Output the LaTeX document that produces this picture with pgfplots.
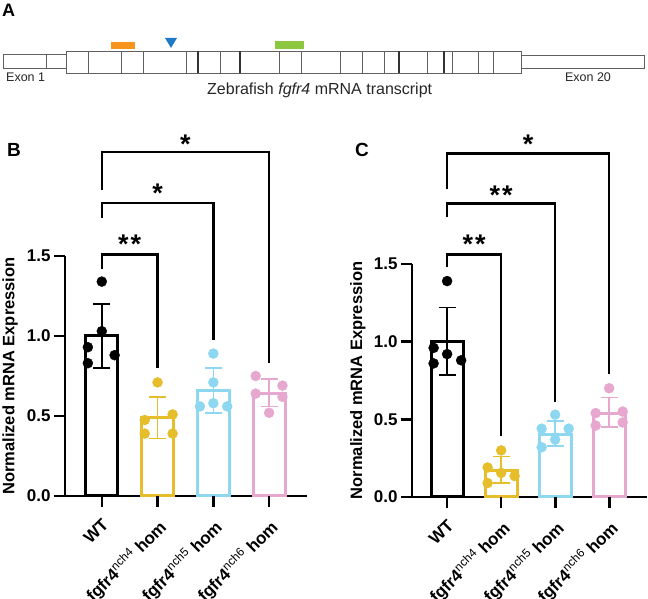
\documentclass[border=0pt]{standalone}
\usepackage{pgfplots}
\pgfplotsset{compat=1.18}
\usepackage{fontspec}
\setmainfont{Liberation Sans}

\definecolor{cyel}{HTML}{E6BE2C}
\definecolor{cblu}{HTML}{8DD8F0}
\definecolor{cpnk}{HTML}{E6A8CF}
\definecolor{corg}{HTML}{F7941D}
\definecolor{cgrn}{HTML}{8DC63F}
\definecolor{ctri}{HTML}{1F78C8}
\definecolor{cgry}{HTML}{606060}

\newcommand\fs[1]{\fontsize{#1}{#1}\selectfont}
\newcommand\mut[1]{fgfr4\textsuperscript{\mdseries nch#1} hom}

\tikzset{
  brk/.style={line width=2.5pt, line join=miter},
  star/.style={font=\fs{27}\bfseries, anchor=base, yshift=-15.5pt, inner sep=0pt},
}
\pgfplotsset{
  panel/.style={
    scale only axis, anchor=south west, clip=false,
    xmin=-0.66, xmax=3.68, ymin=0, ymax=1.5,
    axis x line=bottom, axis y line=left,
    axis line style={line width=2.6pt,-},
    xtick style={line width=2.6pt,black},
    ytick style={line width=2.6pt,black},
    major tick length=11pt, xtick align=outside, ytick align=outside,
    xtick={0,1,2,3}, xticklabels={WT,\mut4,\mut5,\mut6},
    x tick label style={rotate=45,anchor=north east,font=\fs{17}\bfseries,
      inner sep=2pt, xshift=-6pt, yshift=-5pt},
    ytick={0,0.5,1,1.5}, yticklabels={0.0,0.5,1.0,1.5},
    y tick label style={font=\fs{17}\bfseries},
    ylabel={Normalized mRNA Expression},
    ylabel style={font=\fs{16.5}\bfseries,anchor=center},
  },
  mybar/.style={ybar, bar shift=0pt, bar width=32pt, line width=3pt, draw=#1, fill=white},
  myerr/.style={draw=none, forget plot, error bars/.cd, y dir=both, y explicit,
    error bar style={line width=1.6pt, draw=#1},
    error mark options={rotate=90, mark size=8.5pt, line width=1.6pt, draw=#1}},
  mypts/.style={only marks, mark=*, mark size=5pt, color=#1},
}

\begin{document}
\begin{tikzpicture}
\path[use as bounding box] (0,0) rectangle (648pt,599pt);

% panel A: transcript schematic, pixel coordinates
\begin{axis}[at={(0pt,0pt)}, anchor=south west, scale only axis,
  width=648pt, height=599pt, xmin=0, xmax=648, ymin=0, ymax=599,
  y dir=reverse, hide axis, clip=false]
\draw[cgry, line width=0.8pt] (3,54) rectangle (66,68);
\draw[cgry, line width=0.8pt] (46,54) -- (46,68);
\draw[cgry, line width=0.8pt] (66,51) rectangle (521,73);
\draw[cgry, line width=0.8pt] (521,55) rectangle (644,68);
\draw[cgry, line width=0.8pt]
  (88,51)--(88,73) (121,51)--(121,73) (143,51)--(143,73) (186,51)--(186,73)
  (220,51)--(220,73) (279,51)--(279,73) (301,51)--(301,73)
  (340,51)--(340,73) (362,51)--(362,73) (384,51)--(384,73)
  (427,51)--(427,73) (452,51)--(452,73) (478,51)--(478,73) (493,51)--(493,73);
\draw[black!80, line width=1.1pt]
  (198,51)--(198,73) (240,51)--(240,73) (399,51)--(399,73) (444,51)--(444,73);
\fill[corg] (111,42) rectangle (135,49);
\fill[cgrn] (275,41) rectangle (304,49);
\fill[ctri] (165,38) -- (177,38) -- (171,48) -- cycle;
\node[anchor=base west, inner sep=0pt, font=\fs{12.5}, text=black!85] at (6,82) {Exon 1};
\node[anchor=base, inner sep=0pt, font=\fs{12.5}, text=black!85] at (588,82) {Exon 20};
\node[anchor=base west, inner sep=0pt, font=\fs{16}, text=black!85] at (207,95)
  {Zebrafish \textit{fgfr4} mRNA transcript};
\node[anchor=base west, inner sep=0pt, font=\fs{18}\bfseries] at (2,17) {A};
\node[anchor=base west, inner sep=0pt, font=\fs{19}\bfseries] at (7,157) {B};
\node[anchor=base west, inner sep=0pt, font=\fs{19}\bfseries] at (355,157) {C};
\end{axis}

% panel B
\begin{axis}[panel, at={(65pt,103pt)}, width=242pt, height=240pt,
  ylabel style={at={(axis description cs:-0.227,0.5)}}]
\addplot[mybar=black] coordinates {(0,1.00)};
\addplot[mybar=cyel] coordinates {(1,0.49)};
\addplot[mybar=cblu] coordinates {(2,0.66)};
\addplot[mybar=cpnk] coordinates {(3,0.64)};
\addplot[myerr=black] coordinates {(0,1.00) +- (0,0.20)};
\addplot[myerr=cyel] coordinates {(1,0.49) +- (0,0.13)};
\addplot[myerr=cblu] coordinates {(2,0.66) +- (0,0.14)};
\addplot[myerr=cpnk] coordinates {(3,0.64) += (0,0.09) -= (0,0.08)};
\addplot[mypts=black] coordinates {(0,1.34) (0,1.03) (-0.25,0.93) (-0.25,0.83) (0.23,0.88)};
\addplot[mypts=cyel] coordinates {(1,0.71) (0.77,0.475) (1.27,0.51) (0.77,0.39) (1.27,0.39)};
\addplot[mypts=cblu] coordinates {(2,0.89) (2,0.71) (1.76,0.56) (2,0.58) (2.25,0.56)};
\addplot[mypts=cpnk] coordinates {(2.76,0.75) (3.24,0.69) (2.76,0.64) (3.24,0.62) (3,0.52)};
\draw[brk] (0,1.42) -- (0,1.51) -- (1,1.51) -- (1,0.80);
\draw[brk] (0,1.74) -- (0,1.83) -- (2,1.83) -- (2,0.975);
\draw[brk] (0,1.91) -- (0,2.15) -- (3,2.15) -- (3,0.83);
\node[star] at (0.5,1.61) {*\hspace{2pt}*};
\node[star] at (1,1.93) {*};
\node[star] at (1.5,2.24) {*};
\end{axis}

% panel C
\begin{axis}[panel, at={(412pt,102pt)}, width=235pt, height=233pt,
  xmin=-0.65, xmax=3.7,
  ylabel style={at={(axis description cs:-0.23,0.5)}}]
\addplot[mybar=black] coordinates {(0,1.00)};
\addplot[mybar=cyel] coordinates {(1,0.17)};
\addplot[mybar=cblu] coordinates {(2,0.405)};
\addplot[mybar=cpnk] coordinates {(3,0.54)};
\addplot[myerr=black] coordinates {(0,1.00) += (0,0.22) -= (0,0.215)};
\addplot[myerr=cyel] coordinates {(1,0.17) += (0,0.09) -= (0,0.08)};
\addplot[myerr=cblu] coordinates {(2,0.405) += (0,0.085) -= (0,0.075)};
\addplot[myerr=cpnk] coordinates {(3,0.54) += (0,0.10) -= (0,0.09)};
\addplot[mypts=black] coordinates {(0,1.39) (-0.25,0.96) (0,0.92) (0.26,0.88) (-0.25,0.86)};
\addplot[mypts=cyel] coordinates {(1,0.30) (0.75,0.19) (1,0.155) (1.25,0.135) (0.75,0.09)};
\addplot[mypts=cblu] coordinates {(2,0.53) (1.75,0.44) (2.25,0.44) (2,0.37) (1.75,0.32)};
\addplot[mypts=cpnk] coordinates {(3,0.70) (2.75,0.54) (3.25,0.55) (2.75,0.46) (3.25,0.48)};
\draw[brk] (0,1.48) -- (0,1.56) -- (1,1.56) -- (1,0.39);
\draw[brk] (0,1.80) -- (0,1.89) -- (2,1.89) -- (2,0.61);
\draw[brk] (0,1.98) -- (0,2.21) -- (3,2.21) -- (3,0.79);
\node[star] at (0.5,1.67) {*\hspace{2pt}*};
\node[star] at (1,1.98) {*\hspace{2pt}*};
\node[star] at (1.5,2.31) {*};
\end{axis}

% category tick marks below both x axes, drawn last
\draw[line width=2.6pt, black]
  (101.8pt,103pt) -- (101.8pt,92pt) (157.6pt,103pt) -- (157.6pt,92pt)
  (213.3pt,103pt) -- (213.3pt,92pt) (269.1pt,103pt) -- (269.1pt,92pt)
  (447.1pt,102pt) -- (447.1pt,91pt) (501.1pt,102pt) -- (501.1pt,91pt)
  (555.2pt,102pt) -- (555.2pt,91pt) (609.2pt,102pt) -- (609.2pt,91pt);
\end{tikzpicture}
\end{document}
